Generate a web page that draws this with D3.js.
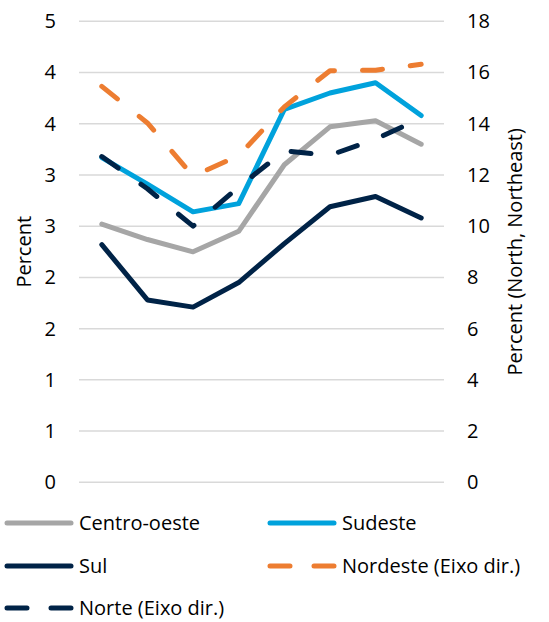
<!DOCTYPE html>
<html><head><meta charset="utf-8">
<script src="https://cdn.jsdelivr.net/npm/d3@7"></script>
<style>
html,body{margin:0;padding:0;background:#fff;}
svg{display:block;font-family:"Open Sans",sans-serif;}
</style></head>
<body><svg id="c" width="549" height="622"></svg>
<script>
const categories = ["p1","p2","p3","p4","p5","p6","p7","p8"];
const centroOeste = [2.52, 2.37, 2.25, 2.45, 3.10, 3.47, 3.53, 3.30];
const sudeste = [3.17, 2.91, 2.64, 2.72, 3.64, 3.80, 3.90, 3.58];
const sul = [2.32, 1.78, 1.71, 1.95, 2.33, 2.69, 2.79, 2.58];
const nordeste = [15.46, 14.03, 11.96, 12.75, 14.66, 16.07, 16.09, 16.32];
const norte = [12.72, 11.46, 10.0, 11.53, 12.94, 12.77, 13.40, 14.22];
const leftTickValues = [0, 0.5, 1, 1.5, 2, 2.5, 3, 3.5, 4, 4.5];
const leftTickLabels = ["0","1","1","2","2","3","3","4","4","5"];
const rightTickValues = [0, 2, 4, 6, 8, 10, 12, 14, 16, 18];
const rightTickLabels = ["0","2","4","6","8","10","12","14","16","18"];

(function(){
const svg = d3.select("#c");
const pL = 79, pR = 444, pT = 21.3, pB = 482.3;
const x = d3.scaleBand().domain(categories).range([pL, pR]);
const yL = d3.scaleLinear().domain([0, 4.5]).range([pB, pT]);
const yR = d3.scaleLinear().domain([0, 18]).range([pB, pT]);

svg.append("g").selectAll("line").data(leftTickValues).join("line")
  .attr("x1", pL).attr("x2", pR)
  .attr("y1", d => yL(d)).attr("y2", d => yL(d))
  .attr("stroke", "#D9D9D9").attr("stroke-width", 1.5);

const gl = svg.append("g").attr("transform", `translate(${pL},0)`)
  .call(d3.axisLeft(yL).tickValues(leftTickValues).tickSize(0).tickPadding(23)
    .tickFormat((d,i) => leftTickLabels[i]));
gl.select(".domain").remove();
gl.selectAll("text").attr("font-size", 20).attr("fill", "#000").attr("font-family", "Open Sans");

const gr = svg.append("g").attr("transform", `translate(${pR},0)`)
  .call(d3.axisRight(yR).tickValues(rightTickValues).tickSize(0).tickPadding(23)
    .tickFormat((d,i) => rightTickLabels[i]));
gr.select(".domain").remove();
gr.selectAll("text").attr("font-size", 20).attr("fill", "#000").attr("font-family", "Open Sans");

svg.append("text").attr("transform", `translate(31,${(pT+pB)/2}) rotate(-90)`)
  .attr("text-anchor", "middle").attr("font-size", 20).text("Percent");
svg.append("text").attr("transform", `translate(522,${(pT+pB)/2}) rotate(-90)`)
  .attr("text-anchor", "middle").attr("font-size", 20).text("Percent (North, Northeast)");

const series = [
  {name: "Centro-oeste", values: centroOeste, y: yL, color: "#A6A6A6", dash: null},
  {name: "Sudeste", values: sudeste, y: yL, color: "#00A2DC", dash: null},
  {name: "Sul", values: sul, y: yL, color: "#002347", dash: null},
  {name: "Nordeste (Eixo dir.)", values: nordeste, y: yR, color: "#ED7D31", dash: "20,28"},
  {name: "Norte (Eixo dir.)", values: norte, y: yR, color: "#002347", dash: "20,28"}
];

series.forEach(s => {
  const line = d3.line().x((d,i) => x(categories[i]) + x.bandwidth()/2).y(d => s.y(d));
  svg.append("path").datum(s.values).attr("d", line)
    .attr("fill", "none").attr("stroke", s.color).attr("stroke-width", 5)
    .attr("stroke-linejoin", "round").attr("stroke-linecap", "round")
    .attr("stroke-dasharray", s.dash);
});

const legendPos = [
  {x: 7, y: 523}, {x: 270, y: 523},
  {x: 7, y: 566}, {x: 270, y: 566},
  {x: 7, y: 608}
];
series.forEach((s, i) => {
  const p = legendPos[i];
  svg.append("line").attr("x1", p.x).attr("x2", p.x + 64).attr("y1", p.y).attr("y2", p.y)
    .attr("stroke", s.color).attr("stroke-width", 5).attr("stroke-linecap", "round")
    .attr("stroke-dasharray", s.dash ? "20,24" : null);
  svg.append("text").attr("x", p.x + 72).attr("y", p.y).attr("dy", "0.35em")
    .attr("font-size", 20).text(s.name);
});
})();
</script></body></html>
